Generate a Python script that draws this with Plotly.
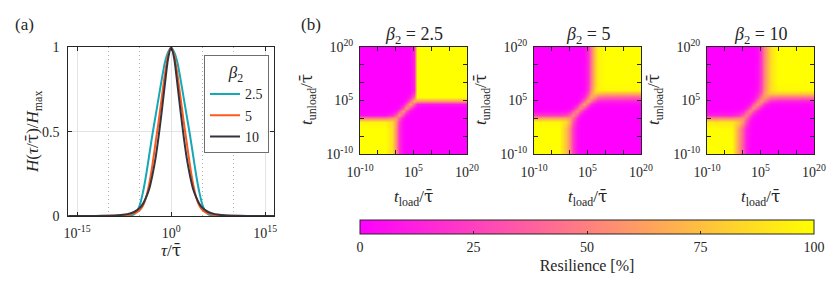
import plotly.graph_objects as go

W, H = 830, 297
FONT = "Liberation Serif, Times New Roman, serif"
INK = "#262626"
TAUBAR = '<span style="font-family:DejaVu Serif">τ̄</span>'

# ---------------- panel (a) data: log10(tau/tau_bar) and normalised spectra ----------------
tau_exp = [-16.4, -14, -12, -10, -9, -8, -7, -6, -5.5, -5, -4.5, -4, -3.5, -3, -2.5, -2,
           -1.5, -1, -0.5, 0, 0.5, 1, 1.5, 2, 2.5, 3, 3.5, 4, 4.5, 5, 5.5, 6, 7, 8, 9,
           10, 12, 14, 16.4]
h_beta_2_5 = [0, 0, 0, 0, 0, 0.0005, 0.002, 0.008, 0.025, 0.065, 0.14, 0.24, 0.36, 0.48,
              0.59, 0.70, 0.81, 0.91, 0.97, 1.0, 0.97, 0.91, 0.81, 0.70, 0.59, 0.48, 0.36,
              0.24, 0.14, 0.065, 0.025, 0.008, 0.002, 0.0005, 0, 0, 0, 0, 0]
h_beta_5 = [0, 0, 0.0002, 0.0008, 0.0015, 0.003, 0.006, 0.014, 0.022, 0.035, 0.06, 0.11,
            0.19, 0.30, 0.43, 0.56, 0.70, 0.84, 0.95, 1.0, 0.95, 0.84, 0.70, 0.56, 0.43,
            0.30, 0.19, 0.11, 0.06, 0.035, 0.022, 0.014, 0.006, 0.003, 0.0015, 0.0008,
            0.0002, 0, 0]
h_beta_10 = [0.0001, 0.0003, 0.0007, 0.002, 0.003, 0.006, 0.011, 0.022, 0.033, 0.048,
             0.072, 0.11, 0.16, 0.24, 0.34, 0.47, 0.62, 0.78, 0.93, 1.0, 0.93, 0.78, 0.62,
             0.47, 0.34, 0.24, 0.16, 0.11, 0.072, 0.048, 0.033, 0.022, 0.011, 0.006, 0.003,
             0.002, 0.0007, 0.0003, 0.0001]
beta_labels = ["2.5", "5", "10"]
line_colors = ["#16A8B6", "#FF5A1E", "#34343F"]

# ---------------- panel (b) data: resilience [%] on a log10 grid ----------------
log_grid = [-10, -3, -1, 0, 1, 2, 3, 4, 5, 6, 7, 8, 10, 20]   # log10(t/tau_bar)
# rows: t_unload (bottom -> top), columns: t_load (left -> right)
res_beta_2_5 = [
    [100, 100, 88, 55, 18, 3, 0, 0, 0, 0, 0, 0, 0, 0],
    [100, 100, 88, 55, 18, 3, 0, 0, 0, 0, 0, 0, 0, 0],
    [96, 95, 85, 60, 22, 4, 0, 0, 0, 0, 0, 0, 0, 0],
    [50, 50, 58, 62, 35, 8, 1, 0, 0, 0, 0, 0, 0, 0],
    [3, 5, 15, 35, 60, 30, 6, 1, 0, 0, 0, 0, 0, 0],
    [0, 0, 2, 8, 30, 60, 30, 6, 1, 0, 0, 0, 0, 0],
    [0, 0, 0, 1, 6, 30, 62, 32, 8, 1, 0, 0, 0, 0],
    [0, 0, 0, 0, 1, 6, 32, 65, 38, 12, 8, 8, 8, 8],
    [0, 0, 0, 0, 0, 1, 8, 38, 72, 65, 62, 62, 62, 62],
    [0, 0, 0, 0, 0, 0, 1, 10, 40, 100, 100, 100, 100, 100],
    [0, 0, 0, 0, 0, 0, 0, 3, 20, 100, 100, 100, 100, 100],
    [0, 0, 0, 0, 0, 0, 0, 1, 12, 100, 100, 100, 100, 100],
    [0, 0, 0, 0, 0, 0, 0, 1, 12, 100, 100, 100, 100, 100],
    [0, 0, 0, 0, 0, 0, 0, 1, 12, 100, 100, 100, 100, 100],
]
res_beta_5 = [
    [100, 100, 75, 50, 22, 5, 1, 0, 0, 0, 0, 0, 0, 0],
    [100, 100, 75, 50, 22, 5, 1, 0, 0, 0, 0, 0, 0, 0],
    [98, 97, 85, 62, 30, 8, 1, 0, 0, 0, 0, 0, 0, 0],
    [65, 65, 65, 60, 42, 14, 3, 0, 0, 0, 0, 0, 0, 0],
    [22, 22, 28, 40, 55, 32, 8, 1, 0, 0, 0, 0, 0, 0],
    [3, 3, 6, 14, 35, 55, 32, 8, 1, 0, 0, 0, 0, 0],
    [0, 0, 1, 3, 10, 34, 58, 34, 9, 2, 0, 0, 0, 0],
    [0, 0, 0, 0, 2, 9, 34, 62, 38, 14, 5, 3, 3, 3],
    [0, 0, 0, 0, 0, 2, 9, 38, 65, 45, 25, 15, 13, 12],
    [0, 0, 0, 0, 0, 0, 2, 14, 45, 68, 55, 42, 38, 36],
    [0, 0, 0, 0, 0, 0, 1, 6, 28, 60, 80, 76, 72, 70],
    [0, 0, 0, 0, 0, 0, 0, 3, 20, 52, 84, 95, 97, 97],
    [0, 0, 0, 0, 0, 0, 0, 2, 16, 48, 80, 95, 100, 100],
    [0, 0, 0, 0, 0, 0, 0, 2, 15, 45, 80, 95, 100, 100],
]
res_beta_10 = [
    [100, 100, 55, 32, 10, 2, 0, 0, 0, 0, 0, 0, 0, 0],
    [100, 98, 58, 35, 12, 3, 0, 0, 0, 0, 0, 0, 0, 0],
    [92, 90, 75, 55, 28, 8, 1, 0, 0, 0, 0, 0, 0, 0],
    [52, 52, 55, 58, 40, 14, 3, 0, 0, 0, 0, 0, 0, 0],
    [12, 12, 20, 35, 52, 30, 9, 2, 0, 0, 0, 0, 0, 0],
    [2, 2, 5, 12, 32, 52, 32, 10, 2, 0, 0, 0, 0, 0],
    [0, 0, 1, 3, 10, 32, 55, 35, 12, 3, 1, 0, 0, 0],
    [0, 0, 0, 1, 2, 10, 34, 58, 40, 18, 8, 4, 3, 3],
    [0, 0, 0, 0, 1, 3, 12, 40, 60, 45, 28, 18, 14, 12],
    [0, 0, 0, 0, 0, 1, 4, 18, 48, 62, 55, 48, 45, 45],
    [0, 0, 0, 0, 0, 0, 2, 10, 32, 60, 75, 80, 82, 82],
    [0, 0, 0, 0, 0, 0, 1, 6, 25, 55, 75, 88, 96, 98],
    [0, 0, 0, 0, 0, 0, 0, 4, 22, 52, 74, 88, 100, 100],
    [0, 0, 0, 0, 0, 0, 0, 3, 20, 50, 72, 88, 100, 100],
]
panel_titles = ["<i>β</i><sub>2</sub> = 2.5", "<i>β</i><sub>2</sub> = 5", "<i>β</i><sub>2</sub> = 10"]
heat_ticks = [-10, -5, 0, 5, 10, 15, 20]
heat_ticktext = ["10<sup>-10</sup>", "", "", "10<sup>5</sup>", "", "", "10<sup>20</sup>"]
cbar_ticks = [0, 25, 50, 75, 100]


def px(x):
    return x / W


def py(y):
    return 1 - y / H


fig = go.Figure()

tau = [10 ** e for e in tau_exp]
for lab, hv, col in zip(beta_labels, [h_beta_2_5, h_beta_5, h_beta_10], line_colors):
    fig.add_trace(go.Scatter(x=tau, y=hv, mode="lines", name=lab,
                             line=dict(color=col, width=2, shape="spline", smoothing=0.6),
                             xaxis="x", yaxis="y"))

heat_dom_x = [(360, 467), (534, 641), (707, 814)]
for i, z in enumerate([res_beta_2_5, res_beta_5, res_beta_10]):
    n = i + 2
    fig.add_trace(go.Heatmap(x=log_grid, y=log_grid, z=z, coloraxis="coloraxis",
                             zsmooth="best", xaxis=f"x{n}", yaxis=f"y{n}",
                             showlegend=False, hoverinfo="skip"))

axis_common = dict(showline=True, linecolor=INK, linewidth=1, mirror="allticks",
                   ticks="inside", tickcolor=INK, ticklen=4, zeroline=False,
                   automargin=False, tickfont=dict(family=FONT, size=14, color=INK))

layout = dict(
    width=W, height=H, margin=dict(l=0, r=0, t=0, b=0),
    paper_bgcolor="white", plot_bgcolor="white",
    font=dict(family=FONT, color=INK),
    xaxis=dict(type="log", range=[-16.4, 16.4], domain=[px(68.3), px(274)],
               tickvals=[1e-15, 1, 1e15],
               ticktext=["10<sup>-15</sup>", "10<sup>0</sup>", "10<sup>15</sup>"],
               showgrid=True, gridcolor="#e3e3e3", gridwidth=1, ticklabelstandoff=4,
               minor=dict(tickvals=[1e-10, 1e-5, 1e5, 1e10], showgrid=True,
                          griddash="1px,3px", gridcolor="#b0b0b0", ticks=""),
               anchor="y", **axis_common),
    yaxis=dict(range=[0, 1], domain=[py(216), py(47.3)], tickvals=[0, 0.5, 1],
               ticktext=["0", "0.5", "1"], showgrid=True, gridcolor="#e3e3e3",
               ticklabelstandoff=5, anchor="x", **axis_common),
    coloraxis=dict(colorscale=[[0, "#ff00ff"], [1, "#ffff00"]], cmin=0, cmax=100,
                   colorbar=dict(orientation="h", x=px(587), xanchor="center",
                                 len=454 / W, lenmode="fraction",
                                 y=py(220), yanchor="top", thickness=14,
                                 thicknessmode="pixels", xpad=0, ypad=0,
                                 outlinewidth=1, outlinecolor=INK,
                                 tickvals=cbar_ticks, ticks="inside", ticklen=3,
                                 tickcolor=INK,
                                 tickfont=dict(family=FONT, size=14, color=INK),
                                 title=dict(text="Resilience [%]", side="bottom",
                                            font=dict(family=FONT, size=16, color=INK)))),
    legend=dict(x=px(204), y=py(55.3), xanchor="left", yanchor="top",
                bgcolor="white", bordercolor="#6e6e6e", borderwidth=1,
                font=dict(family=FONT, size=14, color=INK),
                title=dict(text="<i>β</i><sub>2</sub>", side="top center",
                           font=dict(family=FONT, size=17, color=INK)),
                itemwidth=30, tracegroupgap=0),
)
for i, (x0, x1) in enumerate(heat_dom_x):
    n = i + 2
    layout[f"xaxis{n}"] = dict(range=[-10, 20], domain=[px(x0), px(x1)], anchor=f"y{n}",
                               tickvals=heat_ticks, ticktext=heat_ticktext,
                               showgrid=False, ticklabelstandoff=5, **axis_common)
    layout[f"yaxis{n}"] = dict(range=[-10, 20], domain=[py(154), py(47)], anchor=f"x{n}",
                               tickvals=heat_ticks, ticktext=heat_ticktext,
                               showgrid=False, ticklabelstandoff=3, **axis_common)
fig.update_layout(**layout)

# separator between legend title and entries
fig.add_shape(type="line", xref="paper", yref="paper", x0=px(204), x1=px(267),
              y0=py(82), y1=py(82), line=dict(color="#6e6e6e", width=1))

ann = []


def txt(x, y, s, size=15, angle=0):
    ann.append(dict(x=px(x), y=py(y), xref="paper", yref="paper", text=s, showarrow=False,
                    xanchor="center", yanchor="middle", textangle=angle,
                    font=dict(family=FONT, size=size, color=INK)))


txt(24, 25, "(a)", 17)
txt(311, 25, "(b)", 17)
txt(171, 250, f"<i>τ</i>/{TAUBAR}", 17)
txt(33, 132, f"<i>H</i>(<i>τ</i>/{TAUBAR})/<i>H</i><sub>max</sub>", 17, -90)
for i, (x0, x1) in enumerate(heat_dom_x):
    cx = (x0 + x1) / 2
    txt(cx, 35, panel_titles[i], 18)
    txt(cx, 197, f"<i>t</i><sub>load</sub>/{TAUBAR}", 17)
    txt(x0 - 53, 100, f"<i>t</i><sub>unload</sub>/{TAUBAR}", 17, -90)
fig.update_layout(annotations=ann)

fig.write_html("out.html", config={"displayModeBar": False},
               post_script="document.body.style.margin='0px';")
